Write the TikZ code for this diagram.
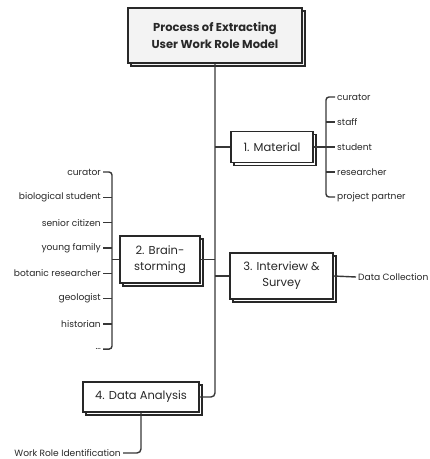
\documentclass[tikz,border=0pt]{standalone}
\usepackage{fontspec}
\setmainfont{Poppins}
\usepackage{xcolor}
\definecolor{wrdark}{RGB}{40,40,40}
\definecolor{wrline}{RGB}{55,55,55}
\definecolor{wrfill}{RGB}{243,243,243}
\usetikzlibrary{positioning,shadows}

\begin{document}
\begin{tikzpicture}[x=1pt, y=-1pt,
  stage/.style={draw=wrdark, line width=1.3pt, fill=white, align=center, font=\fontsize{11.5}{16}\selectfont, text=wrdark, inner sep=2pt,
    copy shadow={shadow xshift=3pt, shadow yshift=-3pt}},
  item/.style={font=\fontsize{9.1}{11}\selectfont, text=wrdark, inner sep=2pt},
  link/.style={draw=wrline, line width=1.4pt, rounded corners=4pt}]
  \useasboundingbox (0,0) rectangle (430,459);

  % Title
  \node[stage, fill=wrfill, minimum width=174pt, minimum height=55pt, font=\fontsize{11.5}{16.5}\selectfont\bfseries] (title) at (215,35.5) {Process of Extracting\\User Work Role Model};

  % Stages
  \node[stage, minimum width=82pt, minimum height=31pt] (mat) at (272,147) {1. Material};
  \node[stage, minimum width=80pt, minimum height=47pt] (brain) at (160,259.5) {2. Brain-\\storming};
  \node[stage, minimum width=103pt, minimum height=46pt] (iv) at (281.5,276) {3. Interview \&\\Survey};
  \node[stage, minimum width=116pt, minimum height=30pt] (da) at (141,397) {4. Data Analysis};

  % Main line
  \draw[link] (title.south) |- (da.east);
  \draw[link] (title.south |- mat.west) -- (mat.west);
  \draw[link] (brain.east) -- (title.south |- brain.east);
  \draw[link] (title.south |- iv.west) -- (iv.west);

  % Material roles
  \foreach \t [count=\i] in {curator,staff,student,researcher,project partner}
    \node[item, anchor=west] (m\i) at (335,72+25*\i) {\t};
  \coordinate (mbr) at (326,197);
  \draw[link, rounded corners=3pt] (m1.west) -| (mbr) -- (m5.west);
  \foreach \i in {2,3,4}
    \draw[link] (m\i.west -| mbr) -- (m\i.west);
  \draw[link] (mat.east) -- (m3.west);

  % Brainstorming roles
  \foreach \t [count=\i] in {curator,biological student,senior citizen,young family,botanic researcher,geologist,historian,{\ldots}}
    \node[item, anchor=east] (b\i) at (103,146.7+25.3*\i) {\t};
  \coordinate (bbr) at (112,349.1);
  \draw[link, rounded corners=3pt] (b1.east) -| (bbr) -- (b8.east);
  \foreach \i in {2,3,4,5,6,7}
    \draw[link] (b\i.east) -- (b\i.east -| bbr);
  \draw[link] (bbr |- brain.west) -- (brain.west);

  % Interview
  \node[item, anchor=west] (dc) at (356,277) {Data Collection};
  \draw[link] (iv.east) -- (dc.west);

  % Data analysis
  \node[item, anchor=east] (wr) at (123,453) {Work Role Identification};
  \draw[link] (da.south) |- (wr.east);
\end{tikzpicture}
\end{document}
